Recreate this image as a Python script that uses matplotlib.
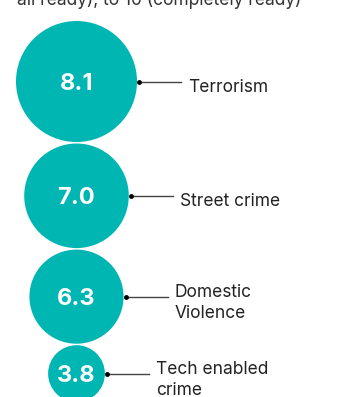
import numpy as np
import matplotlib.pyplot as plt
from matplotlib.patches import Circle

# readiness scores, 0 (not at all ready) to 10 (completely ready)
categories = ["Terrorism", "Street crime", "Domestic\nViolence", "Tech enabled\ncrime"]
scores = [8.1, 7.0, 6.3, 3.8]

teal = "#00b6b3"
px_per_point = 7.47   # circle radius per score unit
cx = 76.5
top = 21.0
gap = 1.5
line_len = 42
line_step = 21   # spacing between label lines, px

plt.rcParams['font.family'] = ['Inter', 'DejaVu Sans']

fig = plt.figure(figsize=(3.62, 3.97), dpi=100)
ax = fig.add_axes([0, 0, 1, 1])
ax.set_xlim(0, 362)
ax.set_ylim(397, 0)
ax.set_aspect('equal')
ax.axis('off')

fig.text(17/362, 1 - 5/397, "all ready), to 10 (completely ready)",
         fontsize=12.5, color='#333333', va='baseline', ha='left')

y = top
for name, val in zip(categories, scores):
    r = val*px_per_point
    cy = y + r
    ax.add_patch(Circle((cx, cy), r, color=teal, lw=0))
    ax.text(cx, cy, f"{val:.1f}", color='white', fontsize=17, fontweight='bold',
            ha='center', va='center_baseline')
    x0 = cx + r + 2
    ax.plot([x0, x0 + line_len], [cy, cy], color='#444444', lw=1)
    ax.plot([x0], [cy], 'o', color='black', ms=2.5)
    lines = name.split("\n")
    # centre the block of label lines just under the leader line
    base = cy + 10.5 - (len(lines) - 1)*line_step/2
    for k, s in enumerate(lines):
        ax.text(x0 + line_len + 7, base + k*line_step, s, fontsize=12.5,
                color='#222222', ha='left', va='baseline')
    y = cy + r + gap

fig.savefig("out.png", dpi=100)
